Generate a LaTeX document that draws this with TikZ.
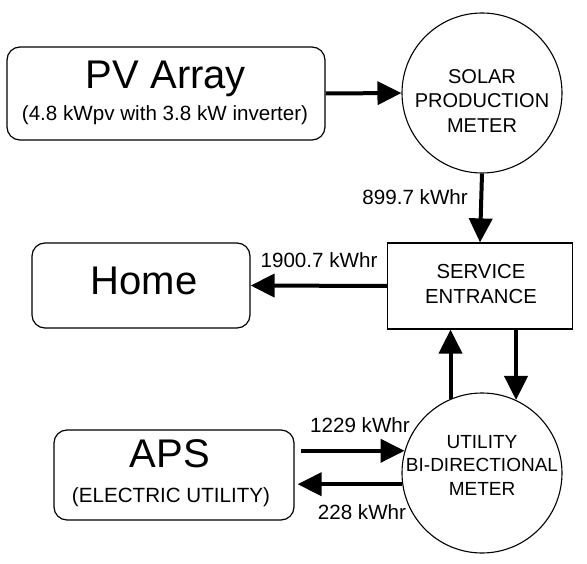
\documentclass[tikz,border=0pt]{standalone}
\usepackage{fontspec}
\setmainfont{Liberation Sans}
\usetikzlibrary{arrows.meta,calc}
\tikzset{
  rbox/.style={draw, line width=1.2pt, rounded corners=13pt, inner sep=0pt},
  sbox/.style={draw, line width=1.2pt, inner sep=0pt},
  meter/.style={draw, circle, line width=1.1pt, minimum size=160pt, inner sep=0pt},
  big/.style={font=\fontsize{40}{44}\selectfont, inner sep=0pt},
  small/.style={font=\fontsize{20.6}{24.5}\selectfont, inner sep=0pt, align=center},
  arr/.style={line width=4pt, -{Triangle[length=24pt,width=23pt]}},
}
\begin{document}
\begin{tikzpicture}[x=1pt,y=-1pt]
\useasboundingbox (0,0) rectangle (587,564);
% boxes
\node[rbox, minimum width=318pt, minimum height=93pt] (pv) at (166,93.5) {};
\node[big] (pvtitle) at (166,79) {PV Array};
\node[small] (pvsub) at (165,115) {(4.8 kWpv with 3.8 kW inverter)};

\node[meter] (solar) at (482,93) {};
\node[small, font=\fontsize{20}{24.5}\selectfont] (solartext) at (482,101) {SOLAR\\PRODUCTION\\METER};

\node[sbox, minimum width=185pt, minimum height=86pt] (service) at (480,286) {};
\node[small, font=\fontsize{20.3}{25}\selectfont] (servicetext) at (481,284.5) {SERVICE\\ENTRANCE};

\node[rbox, minimum width=218pt, minimum height=85pt] (home) at (141,285.5) {};
\node[big] (hometext) at (144,281) {Home};

\node[meter] (util) at (482,473) {};
\node[small, font=\fontsize{19}{23.5}\selectfont] (utiltext) at (482,465) {UTILITY\\BI-DIRECTIONAL\\METER};

\node[rbox, minimum width=240pt, minimum height=90pt] (aps) at (174,475) {};
\node[big] (apstext) at (170,454) {APS};
\node[small] (apssub) at (171,497) {(ELECTRIC UTILITY)};

% labels
\node[small, anchor=east] (l1) at (468,197) {899.7 kWhr};
\node[small] (l2) at (319,260) {1900.7 kWhr};
\node[small] (l3) at (360,425) {1229 kWhr};
\node[small] (l4) at (362,512) {228 kWhr};

% connectors
\draw[arr] (pv.east) -- (solar.west);
\draw[arr] (solar.south) -- (service.north);
\draw[arr] (service.west) -- (home.east);
\draw[arr] (util.113.6) -- (util.113.6 |- service.south);
\draw[arr] (util.65.6 |- service.south) -- (util.65.6);
\draw[arr] ($(aps.east |- util.164)+(6,0)$) -- (util.164);
\draw[arr] (util.188.6) -- ($(aps.east |- util.188.6)+(3,0)$);
\end{tikzpicture}
\end{document}
